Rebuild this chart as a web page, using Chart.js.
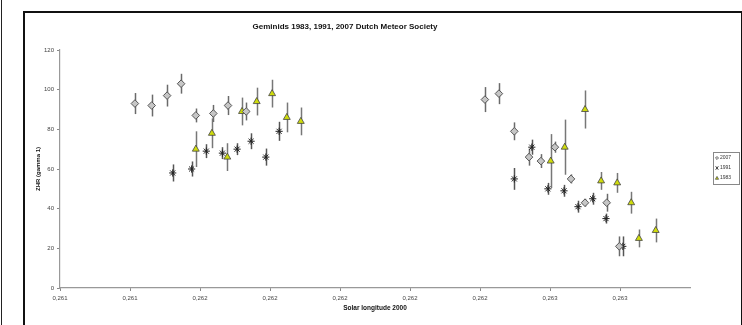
<!DOCTYPE html>
<html>
<head>
<meta charset="utf-8">
<script src="https://cdn.jsdelivr.net/npm/chart.js@4.4.0/dist/chart.umd.min.js"></script>
<style>
  html, body { margin: 0; padding: 0; background: #fff; }
  body { width: 742px; height: 325px; overflow: hidden; position: relative; font-family: "Liberation Sans", Arial, sans-serif; }
  #edge { position: absolute; left: 1px; top: 0; width: 1px; height: 325px; background: #222; }
  #frame { position: absolute; left: 23px; top: 11px; width: 716px; height: 330px; border: 2px solid #111; }
  #wrap { position: absolute; left: 0; top: 0; width: 742px; height: 325px; }
</style>
</head>
<body>
<div id="edge"></div>
<div id="frame"></div>
<div id="wrap"><canvas id="meteorChart" width="742" height="325"></canvas></div>
<script>
// x in axis units (one unit = one tick interval), y = ZHR, err = half length of error bar
const xTickLabels = ['0,261', '0,261', '0,262', '0,262', '0,262', '0,262', '0,262', '0,263', '0,263'];

const x2007   = [1.07, 1.31, 1.53, 1.73, 1.94, 2.19, 2.40, 2.66, 6.07, 6.27, 6.49, 6.70, 6.87, 7.07, 7.30, 7.50, 7.81, 7.99];
const zhr2007 = [93, 92, 97, 103, 87, 88, 92, 89, 95, 98, 79, 66, 64, 71, 55, 43, 43, 21];
const err2007 = [5.3, 5.5, 5.5, 5, 3.5, 4.3, 4.8, 4.5, 6.3, 5.3, 4.5, 4.3, 3.5, 2.8, 2.3, 2, 4.5, 5];

const x1991   = [1.61, 1.88, 2.09, 2.32, 2.53, 2.73, 2.94, 3.13, 6.49, 6.74, 6.97, 7.20, 7.40, 7.61, 7.80, 8.04];
const zhr1991 = [58, 60, 69, 68, 70, 74, 66, 79, 55, 71, 50, 49, 41, 45, 35, 21];
const err1991 = [4.3, 3.8, 3.5, 3, 3, 4, 4.3, 4.8, 5.5, 3.8, 3, 3, 3, 3, 2.5, 5];

const x1983   = [1.94, 2.17, 2.39, 2.60, 2.81, 3.03, 3.24, 3.44, 7.01, 7.21, 7.50, 7.73, 7.96, 8.16, 8.27, 8.51];
const zhr1983 = [70, 78, 66, 89, 94, 98, 86, 84, 64, 71, 90, 54, 53, 43, 25, 29];
const err1983 = [9, 7.5, 7, 7, 7, 7, 7.5, 7, 13.6, 13.9, 9.6, 4.5, 5, 5.5, 4.5, 6];

const FONT = '"Liberation Sans", Arial, sans-serif';

function toPoints(xs, ys) { return xs.map((x, i) => ({ x: x, y: ys[i] })); }

const errorBars = {
  id: 'errorBars',
  beforeDatasetsDraw(chart) {
    const { ctx, scales: { x, y } } = chart;
    ctx.save();
    chart.data.datasets.forEach(ds => {
      ctx.strokeStyle = ds.errColor;
      ctx.lineWidth = 1.5;
      ds.data.forEach((p, i) => {
        const px = Math.round(x.getPixelForValue(p.x)) + 0.5;
        ctx.beginPath();
        ctx.moveTo(px, y.getPixelForValue(p.y - ds.errors[i]));
        ctx.lineTo(px, y.getPixelForValue(p.y + ds.errors[i]));
        ctx.stroke();
      });
    });
    ctx.restore();
  }
};

function marker(ctx, style, x, y, r, fill, stroke) {
  ctx.beginPath();
  ctx.fillStyle = fill; ctx.strokeStyle = stroke; ctx.lineWidth = 0.7;
  if (style === 'rectRot') {
    ctx.moveTo(x, y - r); ctx.lineTo(x + r, y); ctx.lineTo(x, y + r); ctx.lineTo(x - r, y); ctx.closePath();
    ctx.fill(); ctx.stroke();
  } else if (style === 'triangle') {
    ctx.moveTo(x, y - r); ctx.lineTo(x + r, y + r * 0.8); ctx.lineTo(x - r, y + r * 0.8); ctx.closePath();
    ctx.fill(); ctx.stroke();
  } else {
    ctx.moveTo(x - r, y - r); ctx.lineTo(x + r, y + r);
    ctx.moveTo(x + r, y - r); ctx.lineTo(x - r, y + r);
    ctx.moveTo(x, y - r); ctx.lineTo(x, y + r);
    ctx.stroke();
  }
}

const boxLegend = {
  id: 'boxLegend',
  afterDraw(chart) {
    const ctx = chart.ctx;
    const left = 713, top = 152, w = 26, h = 32;
    ctx.save();
    ctx.strokeStyle = '#888';
    ctx.lineWidth = 1;
    ctx.strokeRect(left + 0.5, top + 0.5, w, h);
    ctx.font = '5px ' + FONT;
    ctx.textBaseline = 'middle';
    chart.data.datasets.forEach((ds, i) => {
      const cy = top + 6 + i * 10;
      marker(ctx, ds.pointStyle, left + 4, cy, 1.6, ds.backgroundColor, ds.borderColor);
      ctx.fillStyle = '#333';
      ctx.fillText(ds.label, left + 7, cy);
    });
    ctx.restore();
  }
};

new Chart(document.getElementById('meteorChart'), {
  type: 'scatter',
  data: {
    datasets: [
      { label: '2007', data: toPoints(x2007, zhr2007), errors: err2007, errColor: '#6a6a6a',
        pointStyle: 'rectRot', radius: 3.8, backgroundColor: '#c6c6c6', borderColor: '#555', borderWidth: 1 },
      { label: '1991', data: toPoints(x1991, zhr1991), errors: err1991, errColor: '#555',
        pointStyle: 'star', radius: 3.6, backgroundColor: '#222', borderColor: '#222', borderWidth: 1 },
      { label: '1983', data: toPoints(x1983, zhr1983), errors: err1983, errColor: '#777',
        pointStyle: 'triangle', radius: 4, backgroundColor: '#cfdc0c', borderColor: '#444', borderWidth: 0.8 }
    ]
  },
  options: {
    responsive: false,
    animation: false,
    layout: { padding: { left: 0, right: 52, top: 0, bottom: 0 } },
    plugins: {
      legend: { display: false },
      tooltip: { enabled: false },
      title: {
        display: true,
        text: 'Geminids 1983, 1991, 2007 Dutch Meteor Society',
        color: '#111',
        font: { family: FONT, size: 8, weight: 'bold' },
        padding: { top: 22, bottom: 18.4 }
      }
    },
    scales: {
      x: {
        type: 'linear', min: 0, max: 9,
        afterBuildTicks: axis => { axis.ticks = xTickLabels.map((_, i) => ({ value: i })); },
        afterFit: axis => { axis.height = 37; },
        ticks: { autoSkip: false, maxRotation: 0, padding: 4, color: '#444',
                 font: { family: FONT, size: 6 },
                 callback: v => xTickLabels[v] },
        grid: { drawOnChartArea: false, color: '#888', tickLength: 3 },
        border: { color: '#999', width: 1.2 },
        title: { display: true, text: 'Solar longitude 2000', color: '#111',
                 font: { family: FONT, size: 6.5, weight: 'bold' }, padding: { top: 0, bottom: 13 } }
      },
      y: {
        min: 0, max: 120,
        afterFit: axis => { axis.width = 60; },
        ticks: { stepSize: 20, padding: 3, color: '#444', font: { family: FONT, size: 6 } },
        grid: { drawOnChartArea: false, color: '#888', tickLength: 3 },
        border: { color: '#999', width: 1.2 },
        title: { display: true, text: 'ZHR (gamma 1)', color: '#111',
                 font: { family: FONT, size: 6, weight: 'bold' }, padding: { top: 34.4, bottom: 0 } }
      }
    }
  },
  plugins: [errorBars, boxLegend]
});
</script>
</body>
</html>
